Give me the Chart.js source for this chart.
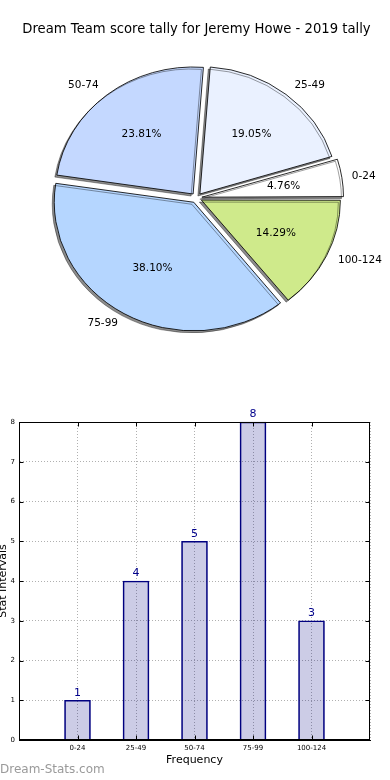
<!DOCTYPE html>
<html>
<head>
<meta charset="utf-8">
<script src="https://cdn.jsdelivr.net/npm/chart.js@4.4.1/dist/chart.umd.min.js"></script>
<style>
  html, body { margin: 0; padding: 0; background: #fff; }
  #wrap { position: relative; width: 390px; height: 780px; overflow: hidden; }
  #pie { position: absolute; left: 0; top: 0; }
  #bars { position: absolute; left: 0; top: 400px; }
</style>
</head>
<body>
<div id="wrap">
  <canvas id="pie" width="390" height="400"></canvas>
  <canvas id="bars" width="390" height="380"></canvas>
</div>
<script>
// score intervals and how often each one came up
const intervals = ['0-24', '25-49', '50-74', '75-99', '100-124'];
const frequencies = [1, 4, 5, 8, 3];
const sliceColors = ['#ffffff', '#eaf1ff', '#c4d8ff', '#b5d6ff', '#cfea8b'];
const yTicks = [0, 1, 2, 3, 4, 5, 6, 7, 8];

const titleText = 'Dream Team score tally for Jeremy Howe - 2019 tally';
const PIE_STRETCH = 1.085; // original pie is a bit wider than tall

Chart.defaults.font.family = '"DejaVu Sans", sans-serif';
Chart.defaults.color = '#000';

// ---- pie ----
// matplotlib goes counter clockwise from 3 o'clock, chart.js clockwise,
// so feed the slices in reverse order
const pieLabels = intervals.slice().reverse();
const pieValues = frequencies.slice().reverse();
const pieColors = sliceColors.slice().reverse();
const total = frequencies.reduce((a, b) => a + b, 0);

const stretchPie = {
  id: 'stretchPie',
  beforeDatasetsDraw(chart) {
    const arc = chart.getDatasetMeta(0).data[0];
    const ctx = chart.ctx;
    ctx.save();
    ctx.translate(arc.x, 0);
    ctx.scale(PIE_STRETCH, 1);
    ctx.translate(-arc.x, 0);
    ctx.shadowColor = 'rgba(0, 0, 0, 0.45)';
    ctx.shadowOffsetX = -2;
    ctx.shadowOffsetY = 2;
    ctx.shadowBlur = 0;
  },
  afterDatasetsDraw(chart) {
    chart.ctx.restore();
  },
};

const pieText = {
  id: 'pieText',
  afterDraw(chart) {
    const ctx = chart.ctx;
    const meta = chart.getDatasetMeta(0);
    ctx.save();
    ctx.fillStyle = '#000';
    ctx.font = '10.5px "DejaVu Sans"';
    ctx.textBaseline = 'middle';
    meta.data.forEach((arc, i) => {
      const mid = (arc.startAngle + arc.endAngle) / 2;
      const r = arc.outerRadius;
      const shift = (arc.options.offset || 0) / 4;
      const cx = arc.x + Math.cos(mid) * shift * PIE_STRETCH;
      const cy = arc.y + Math.sin(mid) * shift;
      // outer label
      ctx.textAlign = Math.cos(mid) >= 0 ? 'left' : 'right';
      ctx.fillText(pieLabels[i],
        cx + Math.cos(mid) * r * 1.1 * PIE_STRETCH,
        cy + Math.sin(mid) * r * 1.1);
      // percentage
      ctx.textAlign = 'center';
      const pct = (pieValues[i] / total * 100).toFixed(2) + '%';
      ctx.fillText(pct,
        cx + Math.cos(mid) * r * 0.6 * PIE_STRETCH,
        cy + Math.sin(mid) * r * 0.6);
    });
    ctx.restore();
  },
};

new Chart(document.getElementById('pie'), {
  type: 'pie',
  data: {
    labels: pieLabels,
    datasets: [{
      data: pieValues,
      backgroundColor: pieColors,
      borderColor: '#000',
      borderWidth: 0.8,
      offset: 20,
      radius: 127,
    }],
  },
  options: {
    responsive: false,
    animation: false,
    devicePixelRatio: 1,
    rotation: 90,
    layout: { padding: { left: 3, bottom: 52 } },
    plugins: {
      legend: { display: false },
      tooltip: { enabled: false },
      title: {
        display: true,
        text: titleText,
        color: '#000',
        font: { size: 13.2, weight: 'normal' },
        padding: { top: 22, bottom: 10 },
      },
    },
  },
  plugins: [stretchPie, pieText],
});

// ---- bars ----
const barLabels = [''].concat(intervals, ['']);
const barValues = [null].concat(frequencies, [null]);

const frameAndTicks = {
  id: 'frameAndTicks',
  afterDatasetsDraw(chart) {
    const { ctx, chartArea: a, scales } = chart;
    const l = Math.round(a.left) + 0.5, r = Math.round(a.right) - 0.5;
    const t = Math.round(a.top) + 0.5, b = Math.round(a.bottom) - 0.5;
    ctx.save();
    ctx.strokeStyle = '#000';
    ctx.lineWidth = 1;
    ctx.beginPath();
    scales.y.ticks.forEach(tk => {
      const y = Math.round(scales.y.getPixelForValue(tk.value)) + 0.5;
      ctx.moveTo(l, y); ctx.lineTo(l + 4, y);
      ctx.moveTo(r, y); ctx.lineTo(r - 4, y);
    });
    intervals.forEach(name => {
      const x = Math.round(scales.x.getPixelForValue(barLabels.indexOf(name))) + 0.5;
      ctx.moveTo(x, b); ctx.lineTo(x, b - 4);
      ctx.moveTo(x, t); ctx.lineTo(x, t + 4);
    });
    ctx.stroke();
    ctx.strokeRect(l, t, r - l, b - t);
    ctx.restore();
  },
};

const barValueText = {
  id: 'barValueText',
  afterDraw(chart) {
    const ctx = chart.ctx;
    const meta = chart.getDatasetMeta(0);
    ctx.save();
    ctx.fillStyle = '#00008b';
    ctx.font = '11px "DejaVu Sans"';
    ctx.textAlign = 'center';
    ctx.textBaseline = 'bottom';
    meta.data.forEach((bar, i) => {
      if (barValues[i] == null) return;
      ctx.fillText(String(barValues[i]), bar.x, bar.y - 2);
    });
    // watermark
    ctx.fillStyle = '#9a9a9a';
    ctx.font = '12px "DejaVu Sans"';
    ctx.textAlign = 'left';
    ctx.textBaseline = 'middle';
    ctx.fillText('Dream-Stats.com', 0, chart.height - 10);
    ctx.restore();
  },
};

new Chart(document.getElementById('bars'), {
  type: 'bar',
  data: {
    labels: barLabels,
    datasets: [{
      data: barValues,
      backgroundColor: 'rgba(0, 0, 128, 0.2)',
      borderColor: '#000080',
      borderWidth: 1,
      barThickness: 26,
      clip: false,
    }],
  },
  options: {
    responsive: false,
    animation: false,
    devicePixelRatio: 1,
    layout: { padding: { top: 22, right: 20, left: 0, bottom: 0 } },
    plugins: {
      legend: { display: false },
      tooltip: { enabled: false },
    },
    scales: {
      x: {
        offset: false,
        grid: { offset: false, drawTicks: false, color: '#b0b0b0', lineWidth: 1 },
        border: { color: '#000', width: 1, dash: [1, 2] },
        ticks: { font: { size: 7 }, color: '#000', padding: 4, autoSkip: false, maxRotation: 0 },
        title: { display: true, text: 'Frequency', color: '#000', font: { size: 11 }, padding: { top: 0, bottom: 13 } },
        afterFit(scale) { scale.height = 40; },
      },
      y: {
        min: 0,
        max: 8,
        afterBuildTicks(scale) { scale.ticks = yTicks.map(v => ({ value: v })); },
        grid: { drawTicks: false, color: '#b0b0b0', lineWidth: 1 },
        border: { color: '#000', width: 1, dash: [1, 2] },
        ticks: { font: { size: 7 }, color: '#000', padding: 4 },
        title: { display: true, text: 'Stat Intervals', color: '#000', font: { size: 11 }, padding: { top: -3, bottom: 0 } },
        afterFit(scale) { scale.width = 19; },
      },
    },
  },
  plugins: [frameAndTicks, barValueText],
});
</script>
</body>
</html>
